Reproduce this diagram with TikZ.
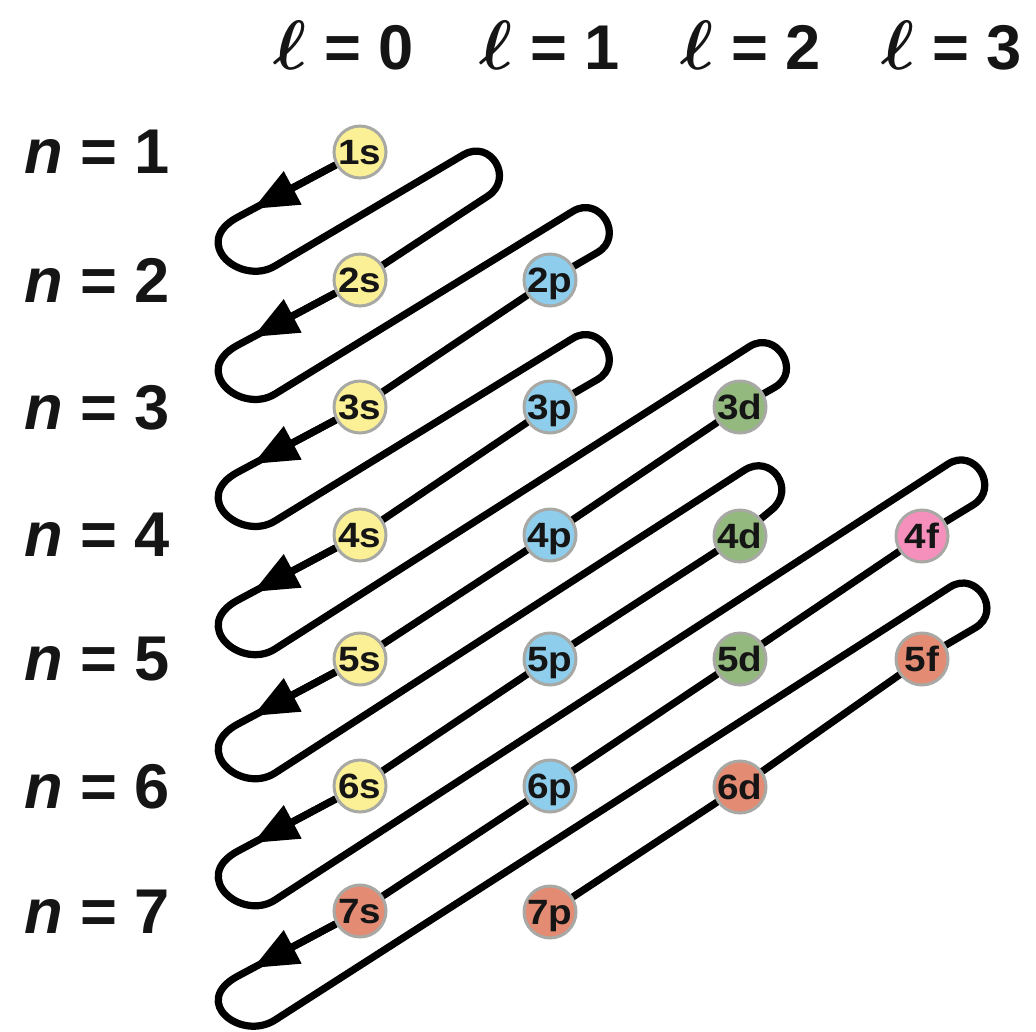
\documentclass[tikz,border=0pt]{standalone}
\usepackage{fontspec}
\usepackage{amsmath}
\usepackage{graphicx}
\setmainfont{Liberation Sans}
\newfontfamily\orbfont[FakeStretch=1.1]{Liberation Sans}
\usetikzlibrary{calc,arrows.meta,backgrounds}
\definecolor{ys}{HTML}{FBF095}
\definecolor{bs}{HTML}{8ECDEB}
\definecolor{gs}{HTML}{93B97E}
\definecolor{ps}{HTML}{F590BD}
\definecolor{rs}{HTML}{E48B74}
\definecolor{bord}{HTML}{A8A8A4}
\definecolor{ink}{HTML}{151515}
\newcommand{\myell}{\raisebox{0pt}{\scalebox{1.6}{$\boldsymbol{\ell}$}}}
\begin{document}
\begin{tikzpicture}[x=0.02cm, y=-0.02cm,
  orb/.style={circle, draw=bord, line width=0.06cm, minimum size=1.04cm, inner sep=0pt,
    text=ink, font=\orbfont\bfseries\fontsize{20}{21}\selectfont, text height=14.3pt, text depth=0pt},
  lab/.style={font=\bfseries\fontsize{36}{40}\selectfont, inner sep=0pt, text depth=0pt, text=ink},
  wire/.style={line width=0.145cm, line join=round, line cap=round},
  arr/.style={line width=0.145cm, -{Triangle[length=0.9cm,width=0.72cm]}}]
\useasboundingbox (0,0) rectangle (1036,1032);

% header labels
\node[lab] (l0) at (344,45) {\myell{} = 0};
\node[lab] (l1) at (550,45) {\myell{} = 1};
\node[lab] (l2) at (751,45) {\myell{} = 2};
\node[lab] (l3) at (952,45) {\myell{} = 3};
\node[lab] (n1) at (97,152) {\textit{n} = 1};
\node[lab] (n2) at (97,280) {\textit{n} = 2};
\node[lab] (n3) at (97,407) {\textit{n} = 3};
\node[lab] (n4) at (97,535) {\textit{n} = 4};
\node[lab] (n5) at (97,659) {\textit{n} = 5};
\node[lab] (n6) at (97,786) {\textit{n} = 6};
\node[lab] (n7) at (97,912) {\textit{n} = 7};

% orbitals
\node[orb, fill=ys] (1s) at (360,152) {1s};
\node[orb, fill=ys] (2s) at (360,280) {2s};
\node[orb, fill=bs] (2p) at (550,280) {2p};
\node[orb, fill=ys] (3s) at (360,407) {3s};
\node[orb, fill=bs] (3p) at (550,407) {3p};
\node[orb, fill=gs] (3d) at (740,407) {3d};
\node[orb, fill=ys] (4s) at (360,535) {4s};
\node[orb, fill=bs] (4p) at (550,535) {4p};
\node[orb, fill=gs] (4d) at (740,536) {4d};
\node[orb, fill=ps] (4f) at (922,536) {4f};
\node[orb, fill=ys] (5s) at (360,659) {5s};
\node[orb, fill=bs] (5p) at (550,659) {5p};
\node[orb, fill=gs] (5d) at (740,659) {5d};
\node[orb, fill=rs] (5f) at (922,659) {5f};
\node[orb, fill=ys] (6s) at (360,786) {6s};
\node[orb, fill=bs] (6p) at (550,786) {6p};
\node[orb, fill=rs] (6d) at (740,787) {6d};
\node[orb, fill=rs] (7s) at (360,911) {7s};
\node[orb, fill=rs] (7p) at (550,912) {7p};

% arrow tips, tail ends (T), return starts (B), return ends (U), diagonal starts (V)
\coordinate (A1) at (253,209); \coordinate (T1) at (238,217); \coordinate (B1) at (275,266);
\coordinate (A2) at (253,337); \coordinate (T2) at (238,345); \coordinate (B2) at (275,394);
\coordinate (A3) at (253,464); \coordinate (T3) at (238,472); \coordinate (B3) at (275,521);
\coordinate (A4) at (253,592); \coordinate (T4) at (238,600); \coordinate (B4) at (275,649);
\coordinate (A5) at (253,716); \coordinate (T5) at (238,724); \coordinate (B5) at (275,773);
\coordinate (A6) at (253,843); \coordinate (T6) at (238,851); \coordinate (B6) at (275,900);
\coordinate (A7) at (253,968); \coordinate (T7) at (238,976); \coordinate (B7) at (275,1020);
\coordinate (U1) at (463.2,154.9); \coordinate (V1) at (487.8,196.1);
\coordinate (U2) at (572.7,211.4); \coordinate (V2) at (597.3,252.6);
\coordinate (U3) at (572.7,338.4); \coordinate (V3) at (597.3,379.6);
\coordinate (U4) at (749.4,346.6); \coordinate (V4) at (774.6,387.4);
\coordinate (U5) at (744.2,470.3); \coordinate (V5) at (771.8,509.7);
\coordinate (U6) at (947.9,464.1); \coordinate (V6) at (973.1,504.9);
\coordinate (U7) at (949.9,587.1); \coordinate (V7) at (975.1,627.9);

\begin{scope}[on background layer]
\draw[wire] (1s) -- (T1) .. controls ($(T1)!-1.1cm!(1s)$) and ($(B1)!-0.8cm!(U1)$) .. (B1) -- (U1)
  .. controls ($(U1)!-0.64cm!(B1)$) and ($(V1)!-0.64cm!(2s)$) .. (V1)
  -- (2s) -- (T2) .. controls ($(T2)!-1.1cm!(2s)$) and ($(B2)!-0.8cm!(U2)$) .. (B2) -- (U2)
  .. controls ($(U2)!-0.64cm!(B2)$) and ($(V2)!-0.64cm!(2p)$) .. (V2)
  -- (2p) -- (3s) -- (T3) .. controls ($(T3)!-1.1cm!(3s)$) and ($(B3)!-0.8cm!(U3)$) .. (B3) -- (U3)
  .. controls ($(U3)!-0.64cm!(B3)$) and ($(V3)!-0.64cm!(3p)$) .. (V3)
  -- (3p) -- (4s) -- (T4) .. controls ($(T4)!-1.1cm!(4s)$) and ($(B4)!-0.8cm!(U4)$) .. (B4) -- (U4)
  .. controls ($(U4)!-0.64cm!(B4)$) and ($(V4)!-0.64cm!(3d)$) .. (V4)
  -- (3d) -- (4p) -- (5s) -- (T5) .. controls ($(T5)!-1.1cm!(5s)$) and ($(B5)!-0.8cm!(U5)$) .. (B5) -- (U5)
  .. controls ($(U5)!-0.64cm!(B5)$) and ($(V5)!-0.64cm!(4d)$) .. (V5)
  -- (4d) -- (5p) -- (6s) -- (T6) .. controls ($(T6)!-1.1cm!(6s)$) and ($(B6)!-0.8cm!(U6)$) .. (B6) -- (U6)
  .. controls ($(U6)!-0.64cm!(B6)$) and ($(V6)!-0.64cm!(4f)$) .. (V6)
  -- (4f) -- (5d) -- (6p) -- (7s) -- (T7) .. controls ($(T7)!-1.1cm!(7s)$) and ($(B7)!-0.8cm!(U7)$) .. (B7) -- (U7)
  .. controls ($(U7)!-0.64cm!(B7)$) and ($(V7)!-0.64cm!(5f)$) .. (V7)
  -- (5f) -- (6d) -- (7p);
\draw[arr] (1s) -- (A1);
\draw[arr] (2s) -- (A2);
\draw[arr] (3s) -- (A3);
\draw[arr] (4s) -- (A4);
\draw[arr] (5s) -- (A5);
\draw[arr] (6s) -- (A6);
\draw[arr] (7s) -- (A7);
\end{scope}
\end{tikzpicture}
\end{document}
